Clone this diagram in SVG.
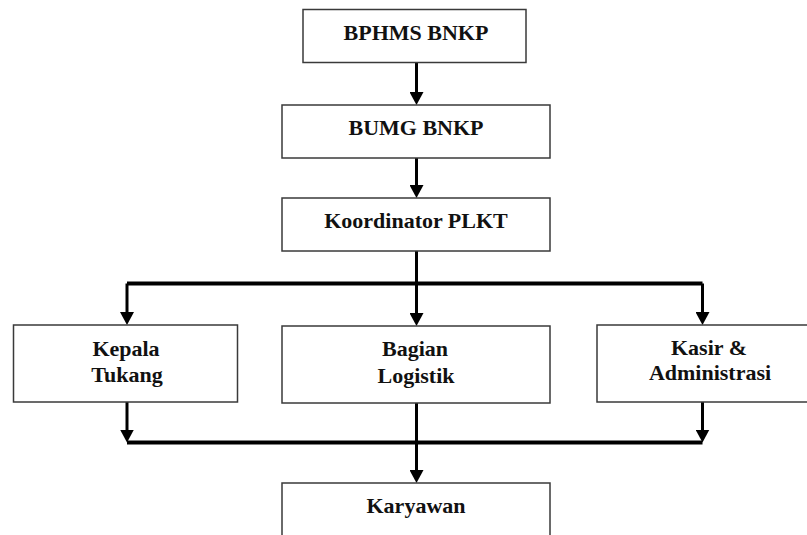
<svg xmlns="http://www.w3.org/2000/svg" width="807" height="535" viewBox="0 0 807 535">
<style>
.box{fill:#fff;stroke:#3a3a3a;stroke-width:1.5}
.t{font-family:"Liberation Serif","Times New Roman",serif;font-weight:bold;font-size:22px;fill:#111;text-anchor:middle}
.c{fill:none;stroke:#000;stroke-width:3}
.bus{fill:none;stroke:#000;stroke-width:4}
</style>
<defs>
<marker id="ah" markerUnits="userSpaceOnUse" markerWidth="14" markerHeight="14" refX="7" refY="7" orient="auto" viewBox="0 0 14 14">
<path d="M0,0 L13,7 L0,14 Z" fill="#000"/>
</marker>
</defs>
<rect width="807" height="535" fill="#fff"/>
<g id="connectors">
<path class="c" d="M416.5,62.5 V99" marker-end="url(#ah)"/>
<path class="c" d="M416.5,158 V192" marker-end="url(#ah)"/>
<path class="bus" d="M127,283.5 H702.5"/>
<path class="c" d="M127,283.5 V319" marker-end="url(#ah)"/>
<path class="c" d="M416.5,251 V320" marker-end="url(#ah)"/>
<path class="c" d="M702.5,283.5 V319" marker-end="url(#ah)"/>
<path class="c" d="M127,402 V436.5" marker-end="url(#ah)"/>
<path class="c" d="M702.5,402 V436.5" marker-end="url(#ah)"/>
<path class="bus" d="M127,442.5 H702.5"/>
<path class="c" d="M416.5,403 V477" marker-end="url(#ah)"/>
</g>
<g id="bphms">
<rect class="box" x="303" y="9.5" width="223" height="53"/>
<text class="t" x="416" y="40">BPHMS BNKP</text>
</g>
<g id="bumg">
<rect class="box" x="282" y="105" width="268" height="53"/>
<text class="t" x="416" y="135">BUMG BNKP</text>
</g>
<g id="koordinator">
<rect class="box" x="282" y="198" width="268" height="53"/>
<text class="t" x="416" y="228">Koordinator PLKT</text>
</g>
<g id="kepala">
<rect class="box" x="13.5" y="325" width="224" height="77"/>
<text class="t" x="126" y="356">Kepala</text>
<text class="t" x="127" y="382">Tukang</text>
</g>
<g id="bagian">
<rect class="box" x="282" y="326" width="268" height="77"/>
<text class="t" x="415" y="356">Bagian</text>
<text class="t" x="416" y="383">Logistik</text>
</g>
<g id="kasir">
<rect class="box" x="597" y="325" width="225" height="77"/>
<text class="t" x="709" y="355">Kasir &amp;</text>
<text class="t" x="710" y="380">Administrasi</text>
</g>
<g id="karyawan">
<rect class="box" x="282" y="483" width="268" height="70"/>
<text class="t" x="416" y="513">Karyawan</text>
</g>
</svg>
